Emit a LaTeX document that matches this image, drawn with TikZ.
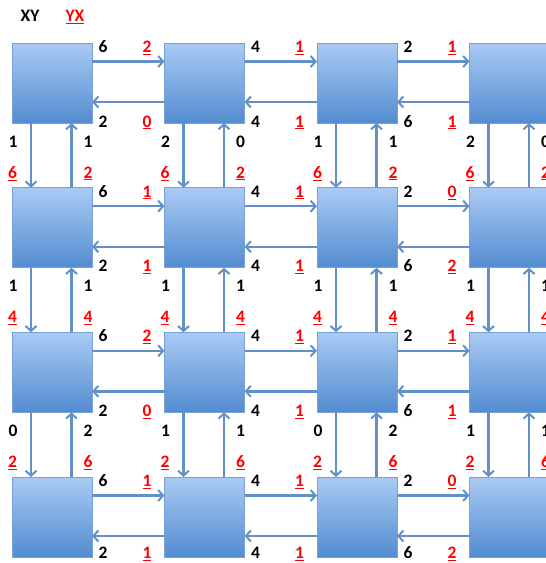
\documentclass[tikz,border=0pt]{standalone}
\usepackage{fontspec}
\setmainfont{Carlito}
\usetikzlibrary{calc,arrows.meta}
\definecolor{arrowblue}{RGB}{98,145,200}
\definecolor{boxtop}{RGB}{170,202,244}
\definecolor{boxbot}{RGB}{82,140,208}
\definecolor{boxedge}{RGB}{120,162,214}
\definecolor{lblred}{RGB}{255,0,0}
\tikzset{
  sq/.style={minimum width=80pt,minimum height=80pt,inner sep=0pt,outer sep=0pt,
    draw=boxedge,line width=0.7pt,top color=boxtop,bottom color=boxbot},
  arr/.style={draw=arrowblue,line width=2.4pt,
    -{Straight Barb[length=5pt,width=11pt,line width=2pt]}},
  blk/.style={anchor=base,inner sep=0pt,font=\fontsize{17.5}{18}\selectfont\bfseries,text=black},
  redl/.style={anchor=base,inner sep=0pt,font=\fontsize{17.5}{18}\selectfont\bfseries,text=lblred}
}
\begin{document}
\begin{tikzpicture}[x=1pt,y=-1pt]
\useasboundingbox (0,0) rectangle (546,563);
\clip (0,0) rectangle (546,563);
\fill[white] (0,0) rectangle (546,563);
% header
\node[blk] (hxy) at (30,21.7) {XY};
\node[redl] (hyx) at (75,21.7) {\underline{YX}};
% squares
\foreach \r/\T in {1/43,2/187.7,3/332.3,4/477}
  \foreach \c/\L in {1/12,2/164.5,3/317,4/469.5}
    \node[sq] (n\r\c) at (\L+40,\T+40) {};
% horizontal arrows
\foreach \r in {1,...,4}
  \foreach \c/\d in {1/2,2/3,3/4}{
    \draw[arr] ($(n\r\c.north east)+(0,18.5)$) -- ($(n\r\d.north west)+(0,18.5)$);
    \draw[arr] ($(n\r\d.north west)+(0,59)$) -- ($(n\r\c.north east)+(0,59)$);
  }
% vertical arrows
\foreach \r/\s in {1/2,2/3,3/4}
  \foreach \c in {1,...,4}{
    \draw[arr] ($(n\r\c.south west)+(19,0)$) -- ($(n\s\c.north west)+(19,0)$);
    \draw[arr] ($(n\s\c.north west)+(59.5,0)$) -- ($(n\r\c.south west)+(59.5,0)$);
  }
% horizontal link labels
\foreach \r/\c/\d/\tb/\tr/\bb/\br/\bo in {
  1/1/2/6/2/2/0/4, 1/2/3/4/1/4/1/4, 1/3/4/2/1/6/1/4,
  2/1/2/6/1/2/1/4, 2/2/3/4/1/4/1/4, 2/3/4/2/0/6/2/4,
  3/1/2/6/2/2/0/4, 3/2/3/4/1/4/1/4, 3/3/4/2/1/6/1/4,
  4/1/2/6/1/2/1/1.5, 4/2/3/4/1/4/1/1.5, 4/3/4/2/0/6/2/1.5}{
  \node[blk] (htb\r\c) at ($(n\r\c.north east)+(11,9.5)$) {\tb};
  \node[redl] (htr\r\c) at ($(n\r\d.north west)+(-17.5,9.5)$) {\underline{\tr}};
  \node[blk] (hbb\r\c) at ($(n\r\c.south east)+(11,\bo)$) {\bb};
  \node[redl] (hbr\r\c) at ($(n\r\d.south west)+(-17.5,\bo)$) {\underline{\br}};
}
% vertical link labels
\foreach \r/\s/\c/\lb/\rb/\lr/\rr in {
  1/2/1/1/1/6/2, 1/2/2/2/0/6/2, 1/2/3/1/1/6/2, 1/2/4/2/0/6/2,
  2/3/1/1/1/4/4, 2/3/2/1/1/4/4, 2/3/3/1/1/4/4, 2/3/4/1/1/4/4,
  3/4/1/0/2/2/6, 3/4/2/1/1/2/6, 3/4/3/0/2/2/6, 3/4/4/1/1/2/6}{
  \node[blk] (vlb\r\c) at ($(n\s\c.north west)+(1,-40.5)$) {\lb};
  \node[blk] (vrb\r\c) at ($(n\s\c.north west)+(76,-40.5)$) {\rb};
  \node[redl] (vlr\r\c) at ($(n\s\c.north west)+(0.5,-9.5)$) {\underline{\lr}};
  \node[redl] (vrr\r\c) at ($(n\s\c.north west)+(76,-9.5)$) {\underline{\rr}};
}
\end{tikzpicture}
\end{document}
